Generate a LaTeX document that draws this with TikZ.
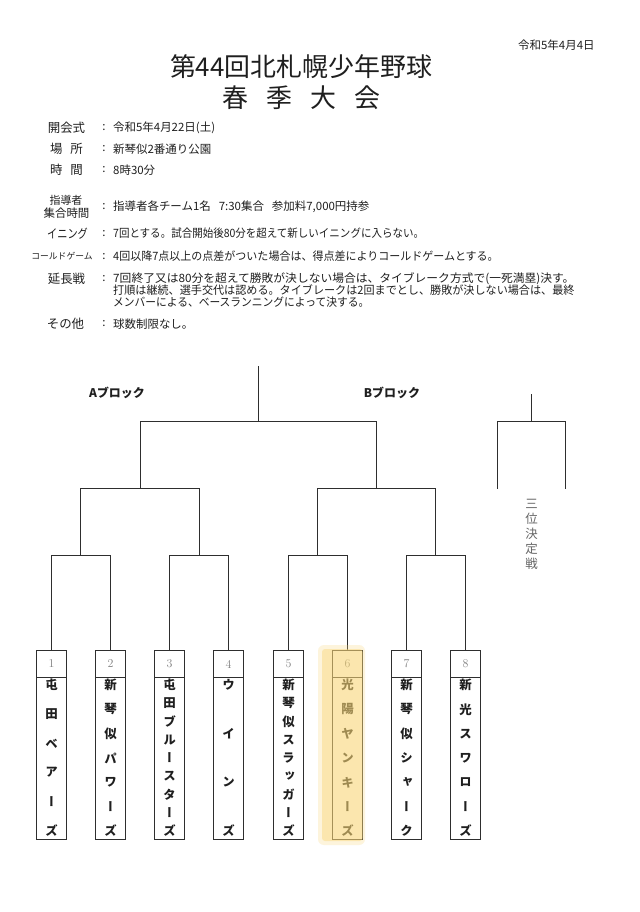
\documentclass[tikz,border=0pt]{standalone}
\usepackage{fontspec}
\usepackage{graphicx}
\newfontfamily\jp{Noto Sans CJK JP}
\newfontfamily\jpv[RawFeature=+vert]{Noto Sans CJK JP}
\newcommand\fsz[1]{\fontsize{#1}{#1}\selectfont}
\newcommand\sqz[2]{\resizebox{#1}{\height}{#2}}
\definecolor{linec}{gray}{0.18}
\definecolor{txt}{gray}{0.12}
\definecolor{numc}{gray}{0.5}
\definecolor{hlc}{RGB}{249,214,118}
\begin{document}
\begin{tikzpicture}[x=1bp,y=-1bp,
  bline/.style={draw=linec,line width=1.8bp},
  numbox/.style={draw=linec,line width=1.6bp,minimum width=30bp,minimum height=27bp,inner sep=0pt,text=numc,font=\fsz{12}},
  namebox/.style={draw=linec,line width=1.6bp,minimum width=30bp,minimum height=162bp,inner sep=0pt},
  chr/.style={inner sep=0pt,text=txt,font=\jpv\bfseries\fsz{12.5}},
  lab/.style={inner sep=0pt,text=txt,font=\jp\fsz{12.5}},
  val/.style={inner sep=0pt,anchor=west,text=txt,font=\jp\fsz{11.5}},
  colon/.style={inner sep=0pt,text=txt,font=\jp\fsz{11.5}},
  blk/.style={inner sep=0pt,text=txt,font=\jp\bfseries\fsz{12}},
  third/.style={inner sep=0pt,text=black!60,font=\jp\fsz{12.5}}]
\fill[white] (0,0) rectangle (640,912);
\useasboundingbox (0,0) rectangle (640,912);

% header
\node[inner sep=0pt,anchor=west,text=txt,font=\jp\fsz{11.5}] (date) at (518,45) {令和5年4月4日};
\node[inner sep=0pt,text=txt,font=\jp\fsz{26}] (title) at (301,67) {第44回北札幌少年野球};
\foreach \c [count=\i] in {春,季,大,会}
  \node[inner sep=0pt,text=txt,font=\jp\fsz{26}] (sub\i) at ({235+(\i-1)*44},98) {\c};

% info block
\node[lab] (l1) at (66.5,127.5) {開会式};
\node[lab] (l2) at (66.5,149) {場\hspace{8pt}所};
\node[lab] (l3) at (66.5,170) {時\hspace{8pt}間};
\node[lab,font=\jp\fsz{11}] (l4a) at (66,200) {指導者};
\node[lab,font=\jp\fsz{11.5}] (l4b) at (66.5,213.5) {集合時間};
\node[lab] (l5) at (67.5,233.5) {\sqz{41pt}{イニング}};
\node[lab,font=\jp\fsz{8.8}] (l6) at (62,256.5) {コールドゲーム};
\node[lab] (l7) at (66.5,278.5) {延長戦};
\node[lab] (l8) at (65.5,324) {その他};

\foreach \y/\n in {127.5/1,149/2,170/3,207/4,233.5/5,256.5/6,278.5/7,324/8}
  \node[colon] (c\n) at (104,\y) {:};

\node[val] (v1) at (113,127.5) {令和5年4月22日(土)};
\node[val] (v2) at (113,149) {新琴似2番通り公園};
\node[val] (v3) at (113,170) {8時30分};
\node[val] (v4) at (113,207) {指導者各チーム1名\hspace{8pt}7:30集合\hspace{8pt}参加料7,000円持参};
\node[val] (v5) at (113,233.5) {\sqz{312pt}{7回とする。試合開始後80分を超えて新しいイニングに入らない。}};
\node[val] (v6) at (113,256.5) {\sqz{387pt}{4回以降7点以上の点差がついた場合は、得点差によりコールドゲームとする。}};
\node[val] (v7a) at (113,278.5) {\sqz{463pt}{7回終了又は80分を超えて勝敗が決しない場合は、タイブレーク方式で(一死満塁)決す。}};
\node[val] (v7b) at (113,290.5) {\sqz{463pt}{打順は継続、選手交代は認める。タイブレークは2回までとし、勝敗が決しない場合は、最終}};
\node[val] (v7c) at (113,302.5) {\sqz{257pt}{メンバーによる、ベースランニングによって決する。}};
\node[val] (v8) at (113,324) {球数制限なし。};

% block labels
\node[blk] (blkA) at (117,393) {Aブロック};
\node[blk] (blkB) at (392,393) {Bブロック};

% team boxes
\foreach \n/\x/\k/\chars in {
  1/51.5/6/{屯,田,ベ,ア,ー,ズ},
  2/110.5/7/{新,琴,似,パ,ワ,ー,ズ},
  3/169.5/9/{屯,田,ブ,ル,ー,ス,タ,ー,ズ},
  4/228.5/4/{ウ,イ,ン,ズ},
  5/288.5/9/{新,琴,似,ス,ラ,ッ,ガ,ー,ズ},
  6/347.5/7/{光,陽,ヤ,ン,キ,ー,ズ},
  7/406.5/7/{新,琴,似,シ,ャ,ー,ク},
  8/465.5/7/{新,光,ス,ワ,ロ,ー,ズ}} {
  \node[numbox] (num\n) at (\x,664) {\n};
  \node[namebox] (nm\n) at (\x,758.5) {};
  \foreach \c [count=\i] in \chars
    \node[chr] (ch\n-\i) at (\x,{685+(\i-1)*146/(\k-1)}) {\c};
}

% bracket
\coordinate (q1) at (80.5,555.5);
\coordinate (q2) at (199.5,555.5);
\coordinate (q3) at (317.5,555.5);
\coordinate (q4) at (435.5,555.5);
\coordinate (s1) at (140.5,488.5);
\coordinate (s2) at (376.5,488.5);
\coordinate (fin) at (258.5,421.5);
\coordinate (top) at (258.5,365.5);
\draw[bline] (num1.north) |- (q1) -| (num2.north);
\draw[bline] (num3.north) |- (q2) -| (num4.north);
\draw[bline] (num5.north) |- (q3) -| (num6.north);
\draw[bline] (num7.north) |- (q4) -| (num8.north);
\draw[bline] (q1) |- (s1) -| (q2);
\draw[bline] (q3) |- (s2) -| (q4);
\draw[bline] (s1) |- (fin) -| (s2);
\draw[bline] (fin) -- (top);

% third place
\coordinate (tl) at (497.5,488.5);
\coordinate (tr) at (565.5,488.5);
\coordinate (tm) at (531.5,421.5);
\coordinate (tt) at (531.5,393.5);
\draw[bline] (tl) |- (tm) -| (tr);
\draw[bline] (tm) -- (tt);
\foreach \c [count=\i] in {三,位,決,定,戦}
  \node[third] (th\i) at (531.5,{504+(\i-1)*15}) {\c};

% highlight
\fill[hlc,fill opacity=0.25,rounded corners=6pt] (318,645) rectangle (365,845);
\fill[hlc,fill opacity=0.45,rounded corners=3pt] (322,649) rectangle (362.5,841);
\end{tikzpicture}
\end{document}
